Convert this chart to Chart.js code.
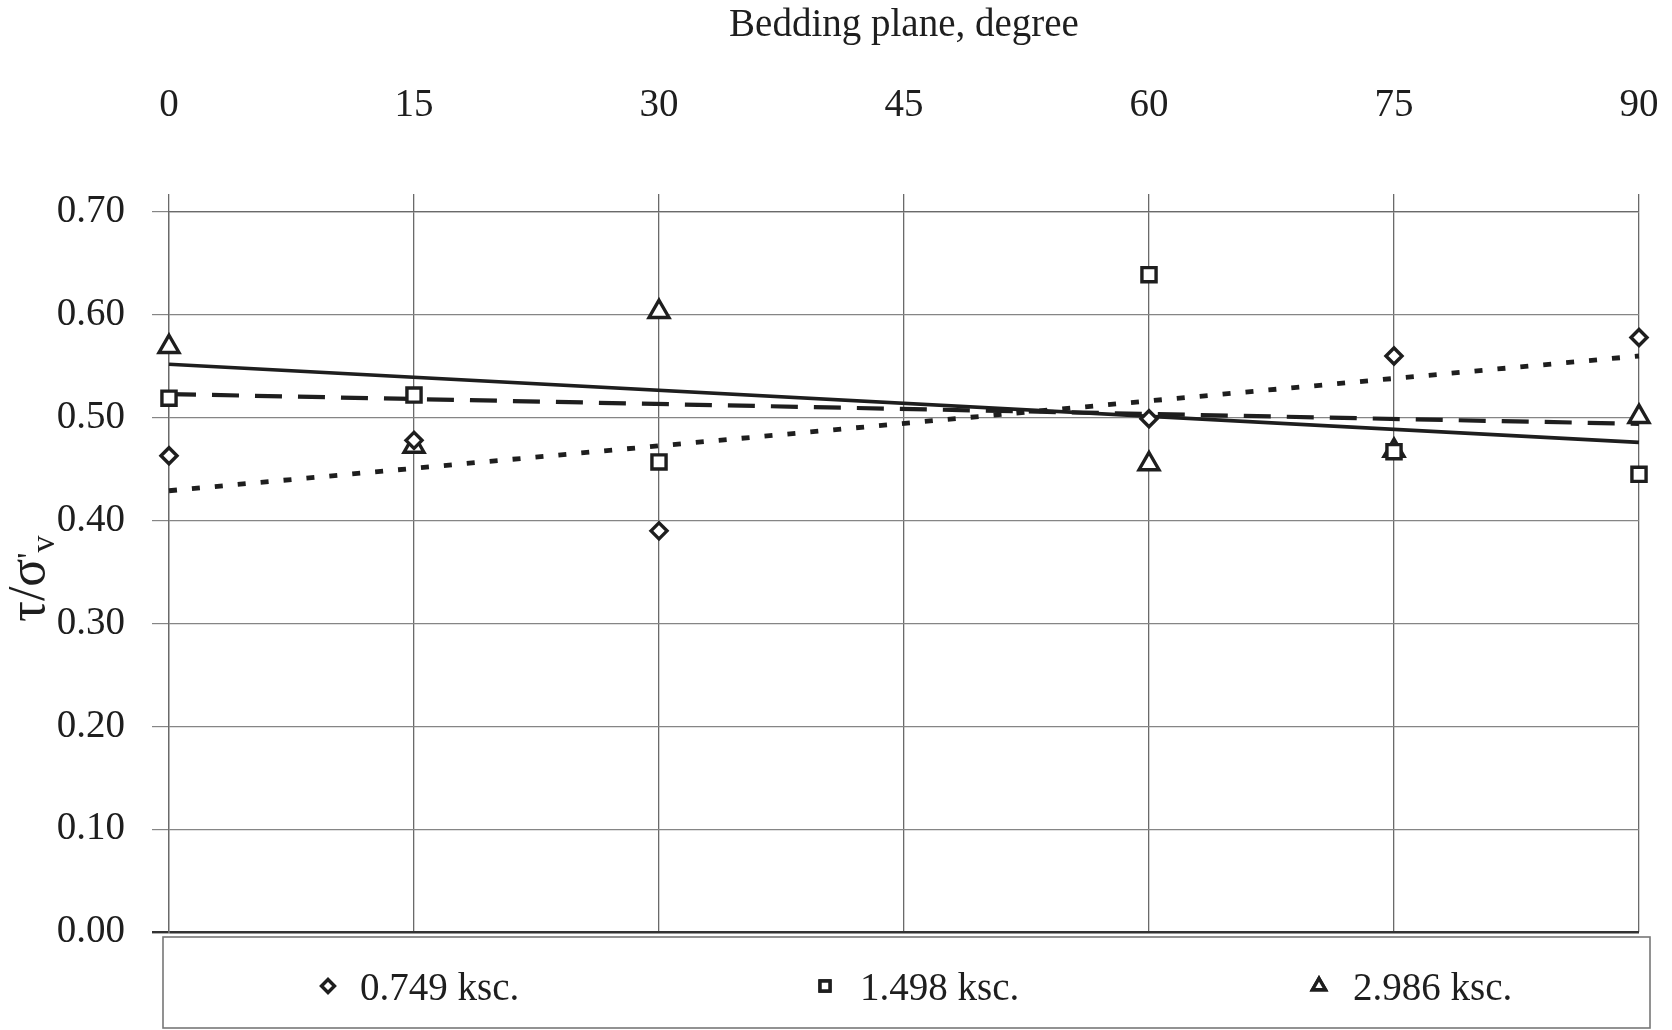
<!DOCTYPE html>
<html>
<head>
<meta charset="utf-8">
<script src="https://cdn.jsdelivr.net/npm/chart.js@4.4.1/dist/chart.umd.min.js"></script>
<style>
  html, body { margin: 0; padding: 0; background: #fff; }
  canvas { display: block; }
</style>
</head>
<body>
<canvas id="chart" width="1672" height="1030"></canvas>
<script>
// bedding plane angles (deg) and tau/sigma'v readings
const angles = [0, 15, 30, 60, 75, 90];
const load749 = [0.463, 0.478, 0.390, 0.499, 0.560, 0.578];
const load1498 = [0.519, 0.522, 0.457, 0.639, 0.467, 0.445];
const load2986 = [0.569, 0.472, 0.603, 0.455, 0.468, 0.501];
const seriesNames = ['0.749 ksc.', '1.498 ksc.', '2.986 ksc.'];

// linear trend lines, read at 0 and 90 degrees
const trendAngles = [0, 90];
const trend749 = [0.429, 0.560];
const trend1498 = [0.523, 0.494];
const trend2986 = [0.552, 0.476];

const xTicks = [0, 15, 30, 45, 60, 75, 90];
const yTicks = [0, 0.1, 0.2, 0.3, 0.4, 0.5, 0.6, 0.7];

const serif = "'Liberation Serif', 'Times New Roman', serif";
const ink = '#1e1e1e';
Chart.defaults.font.family = serif;
Chart.defaults.color = ink;

const markers = ['rectRot', 'rect', 'triangle'];
const markerSize = [8, 10, 11.5];

function points(xs, ys) {
  return xs.map((x, i) => ({ x: x, y: ys[i] }));
}

const scatterSets = [load749, load1498, load2986].map((vals, i) => ({
  label: seriesNames[i],
  data: points(angles, vals),
  showLine: false,
  clip: false,
  pointStyle: markers[i],
  pointRadius: markerSize[i],
  pointBorderWidth: 3.4,
  pointBorderColor: ink,
  pointBackgroundColor: '#fff'
}));

const dashes = [[8, 15], [27, 16], []];
const widths = [4.8, 4.2, 3.6];
const trendSets = [trend749, trend1498, trend2986].map((vals, i) => ({
  label: 'trend ' + seriesNames[i],
  data: points(trendAngles, vals),
  showLine: true,
  clip: false,
  pointRadius: 0,
  borderColor: ink,
  borderWidth: widths[i],
  borderDash: dashes[i]
}));

// legend box under the plot
const boxLegend = {
  id: 'boxLegend',
  afterDraw(chart) {
    const ctx = chart.ctx;
    ctx.save();
    ctx.strokeStyle = '#777';
    ctx.lineWidth = 1.6;
    ctx.strokeRect(163, 937, 1487, 91);
    const markX = [328, 825, 1319];
    const textX = [360, 860, 1353];
    const rad = [6.5, 7, 7.5];
    ctx.font = '39px ' + serif;
    ctx.textBaseline = 'middle';
    for (let i = 0; i < 3; i++) {
      Chart.helpers.drawPoint(ctx, {
        pointStyle: markers[i], radius: rad[i], rotation: 0, borderWidth: 3
      }, markX[i], 986);
      ctx.strokeStyle = ink;
      ctx.lineWidth = 3.4;
      ctx.fillStyle = '#fff';
      ctx.fill();
      ctx.stroke();
      ctx.fillStyle = ink;
      ctx.fillText(seriesNames[i], textX[i], 990);
    }
    ctx.restore();
  }
};

// rotated y title with subscript v
const yTitle = {
  id: 'yTitle',
  afterDraw(chart) {
    const ctx = chart.ctx;
    ctx.save();
    ctx.translate(44, 622);
    ctx.rotate(-Math.PI / 2);
    ctx.fillStyle = ink;
    ctx.textBaseline = 'alphabetic';
    ctx.font = '52px ' + serif;
    let x = 0;
    const main = "\u03C4/\u03C3";
    ctx.fillText(main, x, 0);
    x += ctx.measureText(main).width;
    ctx.font = '34px ' + serif;
    ctx.fillText("'", x, -4);
    x += ctx.measureText("'").width;
    ctx.fillText('v', x, 10);
    ctx.restore();
  }
};

new Chart(document.getElementById('chart'), {
  type: 'scatter',
  data: { datasets: scatterSets.concat(trendSets) },
  options: {
    responsive: false,
    animation: false,
    devicePixelRatio: 1,
    layout: { padding: { left: 0, top: 0, right: 33, bottom: 98 } },
    plugins: {
      legend: { display: false },
      tooltip: { enabled: false }
    },
    scales: {
      x: {
        type: 'linear',
        position: 'top',
        min: 0,
        max: 90,
        afterBuildTicks: s => { s.ticks = xTicks.map(v => ({ value: v })); },
        afterFit: s => { s.height = 212; s.paddingLeft = 0; s.paddingRight = 0; },
        ticks: {
          padding: 65,
          font: { size: 39 },
          color: ink,
          callback: v => String(v)
        },
        grid: {
          color: '#6a6a6a',
          lineWidth: 1.3,
          tickLength: 18
        },
        border: { color: '#6a6a6a', width: 1.3 },
        title: {
          display: true,
          text: 'Bedding plane, degree',
          font: { size: 39 },
          color: ink,
          padding: { top: 2, bottom: 0 }
        }
      },
      y: {
        type: 'linear',
        min: 0,
        max: 0.7,
        afterBuildTicks: s => { s.ticks = yTicks.map(v => ({ value: v })); },
        afterFit: s => { s.width = 169; s.paddingTop = 0; s.paddingBottom = 0; },
        ticks: {
          padding: 27,
          font: { size: 39 },
          color: ink,
          callback: v => v.toFixed(2)
        },
        grid: {
          color: c => c.tick && c.tick.value === 0 ? '#333' : '#858585',
          lineWidth: c => c.tick && c.tick.value === 0 ? 2.4 : 1.2,
          tickLength: 17
        },
        border: { color: '#6a6a6a', width: 1.3 }
      }
    }
  },
  plugins: [boxLegend, yTitle]
});
</script>
</body>
</html>
